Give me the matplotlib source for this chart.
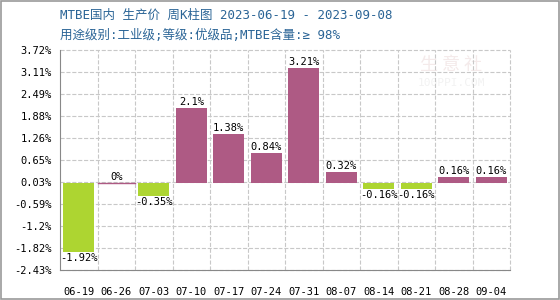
import matplotlib
matplotlib.use("Agg")
import matplotlib.pyplot as plt
import numpy as np

plt.rcParams["font.family"] = ["DejaVu Sans Mono", "Noto Sans CJK SC"]

weeks = ["06-19", "06-26", "07-03", "07-10", "07-17", "07-24",
         "07-31", "08-07", "08-14", "08-21", "08-28", "09-04"]
changes = [-1.92, 0, -0.35, 2.1, 1.38, 0.84, 3.21, 0.32, -0.16, -0.16, 0.16, 0.16]
labels = ["-1.92%", "0%", "-0.35%", "2.1%", "1.38%", "0.84%",
          "3.21%", "0.32%", "-0.16%", "-0.16%", "0.16%", "0.16%"]
ytick_labels = ["-2.43%", "-1.82%", "-1.2%", "-0.59%", "0.03%", "0.65%",
                "1.26%", "1.88%", "2.49%", "3.11%", "3.72%"]

up_color = "#AE5A84"
down_color = "#ADD531"

fig = plt.figure(figsize=(5.6, 3.0), dpi=100)
ax = fig.add_axes([60 / 560, 30 / 300, 450 / 560, 220 / 300])

x = np.arange(len(weeks))
colors = [up_color if v >= 0 else down_color for v in changes]
ax.bar(x, changes, width=0.83, color=colors, zorder=3)
# zero-height bar shows as a thin line
for i, v in enumerate(changes):
    if v == 0:
        ax.plot([i - 0.5, i + 0.5], [0, 0], color=up_color, lw=1, zorder=3)

for i, (v, t) in enumerate(zip(changes, labels)):
    if v >= 0:
        ax.text(i, v + 0.03, t, ha="center", va="bottom", fontsize=7.5, zorder=4)
    else:
        ax.text(i, v - 0.03, t, ha="center", va="top", fontsize=7.5, zorder=4)

ax.set_xlim(-0.5, len(weeks) - 0.5)
ax.set_ylim(-2.43, 3.72)
ax.set_yticks(np.linspace(-2.43, 3.72, 11))
ax.set_yticklabels(ytick_labels, fontsize=7.5)
ax.set_xticks(x)
ax.set_xticklabels(weeks, fontsize=7.5)
ax.set_xticks(np.arange(len(weeks)) + 0.5, minor=True)
ax.tick_params(axis="both", length=0, pad=6)
ax.tick_params(axis="x", pad=12)
ax.tick_params(which="minor", length=0)
ax.grid(True, axis="y", which="major", ls="--", color="#c8c8c8", lw=0.8, zorder=0)
ax.grid(True, axis="x", which="minor", ls="--", color="#c8c8c8", lw=0.8, zorder=0)
for tk in ax.yaxis.get_major_ticks() + ax.xaxis.get_minor_ticks():
    tk.gridline.set_clip_on(False)
for s in ["top", "right"]:
    ax.spines[s].set_visible(False)
for s in ["left", "bottom"]:
    ax.spines[s].set_color("#888888")

# watermark
ax.text(0.87, 0.93, "生 意 社", transform=ax.transAxes, fontsize=13,
        color="#f4eaea", ha="center", va="center", zorder=1,
        family=["Noto Sans CJK SC"])
ax.text(0.87, 0.85, "100PPI.COM", transform=ax.transAxes, fontsize=8,
        color="#f2f2f2", ha="center", va="center", zorder=1)

fig.text(60 / 560, 1 - 15 / 300, "MTBE国内 生产价 周K柱图 2023-06-19 - 2023-09-08",
         color="#2a6496", fontsize=9, va="center")
fig.text(60 / 560, 1 - 35 / 300, "用途级别:工业级;等级:优级品;MTBE含量:≥ 98%",
         color="#2a6496", fontsize=9, va="center")

fig.patches.append(plt.Rectangle((0.001, 0.002), 0.997, 0.995, transform=fig.transFigure,
                                 fill=False, edgecolor="#999999", lw=1.2))

fig.savefig("out.png", dpi=100)
